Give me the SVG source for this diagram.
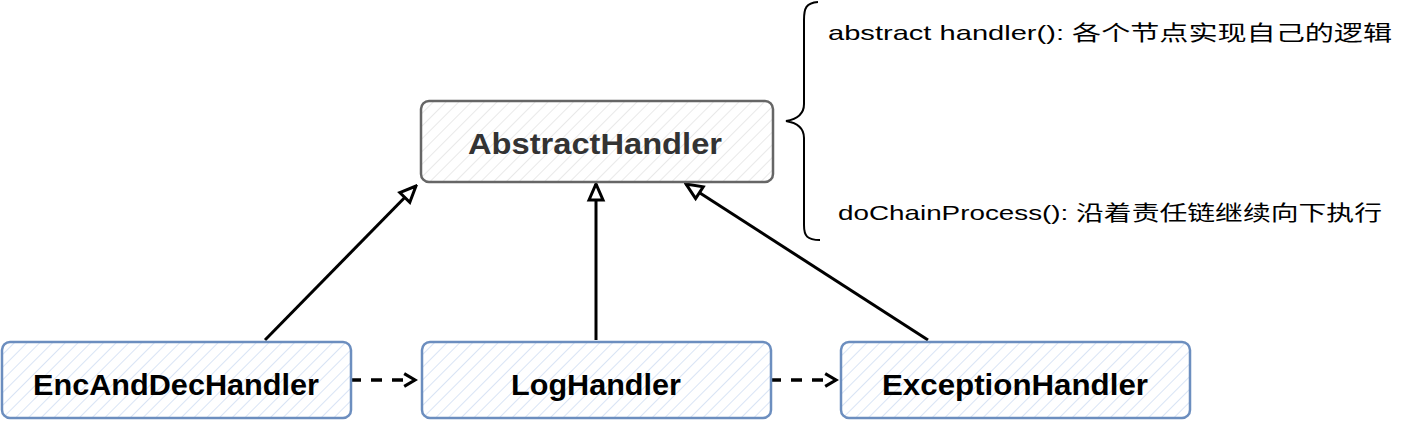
<svg xmlns="http://www.w3.org/2000/svg" width="1402" height="422" viewBox="0 0 1402 422">
<defs>
<pattern id="hatchGray" patternUnits="userSpaceOnUse" width="9" height="9" patternTransform="rotate(45)">
<rect width="9" height="9" fill="#ffffff"/>
<line x1="0" y1="0" x2="0" y2="9" stroke="#e2e2e2" stroke-width="1.5"/>
</pattern>
<pattern id="hatchBlue" patternUnits="userSpaceOnUse" width="9" height="9" patternTransform="rotate(45)">
<rect width="9" height="9" fill="#ffffff"/>
<line x1="0" y1="0" x2="0" y2="9" stroke="#cddcf2" stroke-width="1.5"/>
</pattern>
<marker id="tri" viewBox="0 0 20 20" refX="18" refY="10" markerWidth="20" markerHeight="20" markerUnits="userSpaceOnUse" orient="auto">
<path d="M2,3 L18,10 L2,17 Z" fill="#ffffff" stroke="#000" stroke-width="3" stroke-linejoin="miter"/>
</marker>
<marker id="open" viewBox="0 0 20 20" refX="17" refY="10" markerWidth="18" markerHeight="18" markerUnits="userSpaceOnUse" orient="auto">
<path d="M5,3 L17,10 L5,17" fill="none" stroke="#000" stroke-width="3.5" stroke-linejoin="miter"/>
</marker>
</defs>
<style>
.gbox{fill:url(#hatchGray);stroke:#666666;stroke-width:2.5}
.bbox{fill:url(#hatchBlue);stroke:#6c8ebf;stroke-width:2.5}
.lbl{font-family:"Liberation Sans","DejaVu Sans",sans-serif;font-weight:bold;font-size:29px;text-anchor:middle}
.note{font-family:"Liberation Sans","Noto Sans CJK SC",sans-serif;font-size:21px;fill:#000}
.conn{stroke:#000;stroke-width:3;fill:none}
.dash{stroke-width:3.5;stroke-dasharray:11 10}
</style>
<g id="connectors">
<line class="conn" x1="265" y1="340" x2="416" y2="186" marker-end="url(#tri)"/>
<line class="conn" x1="596" y1="340" x2="596" y2="184" marker-end="url(#tri)"/>
<line class="conn" x1="928" y1="340" x2="686" y2="184" marker-end="url(#tri)"/>
<line class="conn dash" x1="350" y1="380" x2="415" y2="380" marker-end="url(#open)"/>
<line class="conn dash" x1="770" y1="380" x2="836" y2="380" marker-end="url(#open)"/>
</g>
<g id="AbstractHandler">
<rect class="gbox" x="421" y="101" width="352" height="81" rx="8"/>
<text class="lbl" x="595" y="154" fill="#333333" textLength="254" lengthAdjust="spacingAndGlyphs">AbstractHandler</text>
</g>
<g id="EncAndDecHandler">
<rect class="bbox" x="2" y="342" width="349" height="76" rx="8"/>
<text class="lbl" x="176" y="395" textLength="286" lengthAdjust="spacingAndGlyphs">EncAndDecHandler</text>
</g>
<g id="LogHandler">
<rect class="bbox" x="422" y="342" width="349" height="76" rx="8"/>
<text class="lbl" x="596" y="395" textLength="170" lengthAdjust="spacingAndGlyphs">LogHandler</text>
</g>
<g id="ExceptionHandler">
<rect class="bbox" x="841" y="342" width="349" height="76" rx="8"/>
<text class="lbl" x="1015" y="395" textLength="266" lengthAdjust="spacingAndGlyphs">ExceptionHandler</text>
</g>
<g id="brace">
<path d="M818,2 C806,3 804,8 804,20 L804,104 C804,114 798,119 786,121 C798,123 804,128 804,138 L804,225 C804,236 807,240 820,240" fill="none" stroke="#000" stroke-width="2"/>
</g>
<g id="notes">
<text class="note" x="828" y="40" textLength="564" lengthAdjust="spacingAndGlyphs">abstract handler(): 各个节点实现自己的逻辑</text>
<text class="note" x="838" y="220" textLength="544" lengthAdjust="spacingAndGlyphs">doChainProcess(): 沿着责任链继续向下执行</text>
</g>
</svg>
